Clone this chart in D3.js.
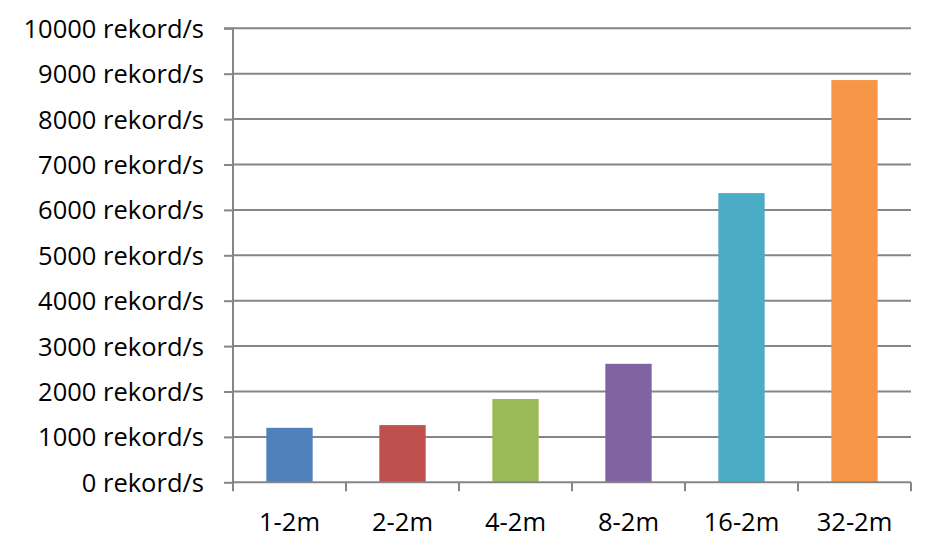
<!DOCTYPE html>
<html><head><meta charset="utf-8">
<script src="https://cdn.jsdelivr.net/npm/d3@7"></script>
<style>body{margin:0;background:#fff}svg{display:block}</style>
</head><body>
<svg id="c" width="937" height="547"></svg>
<script>
const categories = ["1-2m","2-2m","4-2m","8-2m","16-2m","32-2m"];
const values = [1200, 1260, 1835, 2610, 6370, 8860];
const colors = ["#4f81bd","#c0504d","#9bbb59","#8064a2","#4bacc6","#f79646"];
const yTicks = [0,1000,2000,3000,4000,5000,6000,7000,8000,9000,10000];
const unit = " rekord/s";

(function(){
const svg = d3.select("#c");
const pl = 233, pr = 911, pt = 28.3, pb = 482.3;
const x = d3.scaleBand().domain(categories).range([pl, pr]).paddingInner(0.59).paddingOuter(0.295);
const y = d3.scaleLinear().domain([0, 10000]).range([pb, pt]);
const font = "'Open Sans', sans-serif";
const gray = "#868686";
const fs = 25.5;

svg.append("g").selectAll("line").data(yTicks.filter(d=>d>0)).join("line")
  .attr("x1", pl).attr("x2", pr).attr("y1", d=>y(d)).attr("y2", d=>y(d))
  .attr("stroke", gray).attr("stroke-width", 2);

svg.append("g").selectAll("rect").data(categories).join("rect")
  .attr("x", d=>x(d)).attr("width", x.bandwidth())
  .attr("y", (d,i)=>y(values[i])).attr("height", (d,i)=>pb - y(values[i]))
  .attr("fill", (d,i)=>colors[i]);

const ya = d3.axisLeft(y).tickValues(yTicks).tickSize(9).tickPadding(20).tickFormat(d=>d+unit);
const gy = svg.append("g").attr("transform", `translate(${pl},0)`).call(ya);
gy.select(".domain").attr("stroke", gray).attr("stroke-width", 2).attr("d", `M-9,${pt}H0V${pb}`);
gy.selectAll(".tick line").attr("stroke", gray).attr("stroke-width", 2);
gy.selectAll(".tick text").attr("font-family", font).attr("font-size", fs).attr("fill", "#000").attr("dy", "0.35em");

const edges = categories.map(c => x(c) - x.step()*x.paddingInner()/2).concat([pr]);
const xa = d3.axisBottom(x).tickSize(0).tickPadding(22);
const gx = svg.append("g").attr("transform", `translate(0,${pb})`).call(xa);
gx.select(".domain").attr("stroke", gray).attr("stroke-width", 2).attr("d", `M${pl},0H${pr}`);
gx.selectAll(".tick text").attr("font-family", font).attr("font-size", fs).attr("fill", "#000").attr("y", 49).attr("dy", 0);
gx.append("g").selectAll("line").data(edges).join("line")
  .attr("x1", d=>d).attr("x2", d=>d).attr("y1", 0).attr("y2", 9)
  .attr("stroke", gray).attr("stroke-width", 2);
})();
</script>
</body></html>
